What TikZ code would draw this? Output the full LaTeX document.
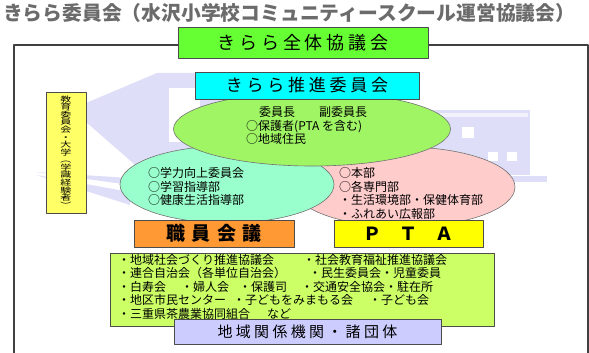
\documentclass[tikz,border=0pt]{standalone}
\usepackage{fontspec}
\usepackage{graphicx}
\setmainfont{Noto Sans CJK JP}
\usetikzlibrary{shapes.geometric,shadows}

\definecolor{wmark}{RGB}{222,222,248}
\definecolor{headgreen}{RGB}{102,255,51}
\definecolor{headcyan}{RGB}{0,255,255}
\definecolor{ovalgreen}{RGB}{160,245,100}
\definecolor{ovalmint}{RGB}{153,255,204}
\definecolor{ovalpink}{RGB}{255,204,204}
\definecolor{staffor}{RGB}{255,153,51}
\definecolor{ptayel}{RGB}{255,255,0}
\definecolor{boardyel}{RGB}{255,255,102}
\definecolor{groupgr}{RGB}{204,255,102}
\definecolor{localbl}{RGB}{204,204,255}

\tikzset{
  box/.style={draw=black!70,line width=0.8pt,inner sep=0pt,
    drop shadow={shadow xshift=1.2pt,shadow yshift=-1.2pt,fill=black!40}},
  oval/.style={ellipse,draw=black!55,line width=0.6pt,inner sep=0pt},
  ovaltext/.style={anchor=north west,inner sep=0pt,align=left,
    font=\fontsize{12}{13.5}\selectfont},
  wide/.style={font=\fontsize{#1}{#1}\selectfont\addfontfeatures{LetterSpace=22}}
}

\begin{document}
\begin{tikzpicture}[x=1pt,y=-1pt,line join=round]
\useasboundingbox (0,0) rectangle (589,353);

% faded school building behind everything
\fill[wmark] (86,103) -- (157,73) -- (330,73) -- (330,178) -- (150,178) -- (86,122) -- cycle;
\fill[white] (169,88) rectangle (200,142);
\fill[wmark] (36,172) -- (130,178) -- (130,185) -- cycle;
\fill[wmark] (36,175) -- (130,192) -- (130,205) -- cycle;
\fill[wmark] (430,110) rectangle (530,175);
\fill[white!60!wmark] (440,113) rectangle (528,117);
\fill[wmark] (300,176) rectangle (547,182);
\fill[white] (462,127) rectangle (474,138);
\fill[white] (488,152) rectangle (498,161);
\fill[white] (507,152) rectangle (517,161);

% title and outer frame
\node[anchor=west,inner sep=0pt,text=black!58,
  font=\fontsize{19.8}{19.8}\selectfont\bfseries] (title) at (3,13)
  {きらら委員会（水沢小学校コミュニティースクール運営協議会）};
\draw[black!75,line width=1.3pt] (14,353) -- (14,45) -- (588,45) -- (588,353);
\node[box,fill=headgreen,minimum width=250pt,minimum height=31pt,wide=18]
  (whole) at (303,42.5) {きらら全体協議会};

% three circles
\node[oval,fill=ovalpink,minimum width=222pt,minimum height=80pt] (ptaOval) at (404,187) {};
\node[oval,fill=ovalmint,minimum width=214pt,minimum height=77pt] (staffOval) at (227,184.5) {};
\node[oval,fill=ovalgreen,minimum width=277pt,minimum height=74pt] (kiraraOval) at (312,129) {};
\node[box,fill=headcyan,minimum width=224pt,minimum height=27pt,wide=17]
  (suishin) at (307,85.5) {きらら推進委員会};

\node[ovaltext] (kiraraText) at (246,106.5)
  {\hspace*{13pt}委員長　　副委員長\\○保護者(PTA を含む)\\○地域住民};
\node[ovaltext] (staffText) at (148,167.5)
  {○学力向上委員会\\○学習指導部\\○健康生活指導部};
\node[ovaltext] (ptaText) at (339,167.5)
  {○本部\\○各専門部\\・生活環境部・保健体育部\\・ふれあい広報部};

% side box, written top to bottom
\node[box,fill=boardyel,minimum width=40pt,minimum height=121pt] (board) at (66,152.5) {};
\node[inner sep=0pt] (boardText) at (66,152)
  {\scalebox{1}[0.7]{\parbox{14pt}{\centering\lineskiplimit=-20pt
   \fontsize{11}{10.8}\selectfont
   教\\育\\委\\員\\会\\・\\大\\学\\︵\\学\\識\\経\\験\\者\\︶}}};

% lower boxes
\node[box,fill=staffor,minimum width=160pt,minimum height=27pt,
  font=\fontsize{19}{19}\selectfont\bfseries\addfontfeatures{LetterSpace=35}]
  (staffBox) at (214,233.5) {職員会議};
\node[box,fill=ptayel,minimum width=149pt,minimum height=27pt,
  font=\fontsize{18}{18}\selectfont\bfseries]
  (ptaBox) at (408.5,233.5) {Ｐ　Ｔ　Ａ};

\node[box,fill=groupgr,minimum width=384pt,minimum height=73pt] (groupBox) at (302,289.5) {};
\node[ovaltext] (groupList) at (118,254)
  {\makebox[185pt][l]{・地域社会づくり推進協議会}・社会教育福祉推進協議会\\
   \makebox[191pt][l]{・連合自治会（各単位自治会）}・民生委員会・児童委員\\
   \makebox[63pt][l]{・白寿会}\makebox[58pt][l]{・婦人会}\makebox[62pt][l]{・保護司}・交通安全協会・駐在所\\
   \makebox[115pt][l]{・地区市民センター}\makebox[136pt][l]{・子どもをみまもる会}・子ども会\\
   \makebox[149pt][l]{・三重県茶農業協同組合}など};
\node[box,fill=localbl,minimum width=267pt,minimum height=25pt,wide=15]
  (localBox) at (307.5,331.5) {地域関係機関・諸団体};
\end{tikzpicture}
\end{document}
